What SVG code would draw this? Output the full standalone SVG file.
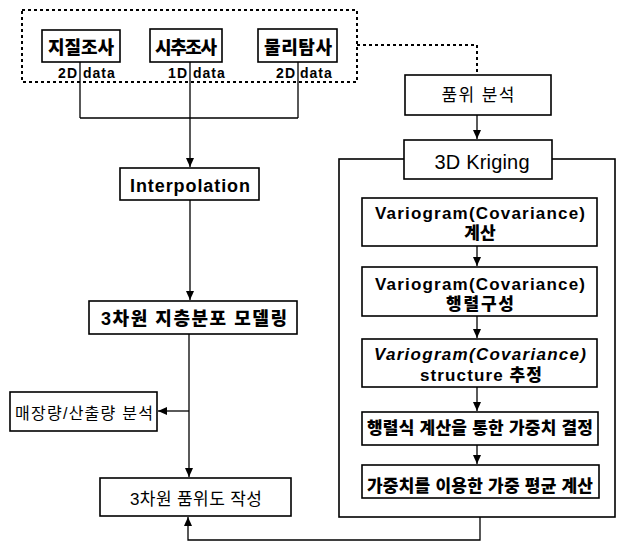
<svg xmlns="http://www.w3.org/2000/svg" width="621" height="542" viewBox="0 0 621 542">
<style>
.box{fill:#fff;stroke:#000;stroke-width:1.6}
.ln{fill:none;stroke:#000;stroke-width:1.3}
.dot{fill:none;stroke:#000;stroke-width:2;stroke-dasharray:3 3}
.b{font-family:"Liberation Sans","Noto Sans CJK KR",sans-serif;font-weight:900;fill:#000}
.r{font-family:"Liberation Sans","Noto Sans CJK KR",sans-serif;font-weight:normal;fill:#000}
.c{text-anchor:middle}
</style>
<defs>
<marker id="ah" markerWidth="10" markerHeight="10" refX="9" refY="5" orient="auto" markerUnits="userSpaceOnUse">
<path d="M0,1 L9,5 L0,9 Z" fill="#000"/>
</marker>
</defs>
<rect width="621" height="542" fill="#fff"/>

<g id="connectors">
<path class="dot" d="M22,10 H357 V82 H22 Z"/>
<path class="dot" d="M357,45 H477 V75"/>
<path class="ln" d="M80,62 V118 M190,62 V118 M298,62 V118 M80,118 H298"/>
<path class="ln" d="M190,118 V167" marker-end="url(#ah)"/>
<path class="ln" d="M190,200 V300" marker-end="url(#ah)"/>
<path class="ln" d="M189,334 V477" marker-end="url(#ah)"/>
<path class="ln" d="M189,411 H158" marker-end="url(#ah)"/>
<path class="ln" d="M477,115 V139" marker-end="url(#ah)"/>
<path class="ln" d="M480,517 V540 H188 V517" marker-end="url(#ah)"/>
<path class="ln" d="M477,246 V266" marker-end="url(#ah)"/>
<path class="ln" d="M477,316 V338" marker-end="url(#ah)"/>
<path class="ln" d="M477,387 V411" marker-end="url(#ah)"/>
<path class="ln" d="M477,445 V464" marker-end="url(#ah)"/>
</g>

<g id="kriging-group">
<rect x="339" y="159" width="276" height="358" fill="none" stroke="#000" stroke-width="1.6"/>
</g>

<g id="n-jijil">
<rect class="box" x="42" y="30" width="78" height="32"/>
<text class="b c" x="81" y="54" font-size="18" textLength="66">지질조사</text>
<text class="b" x="78" y="78" font-size="14" text-anchor="end" letter-spacing="1">2D</text>
<text class="b" x="83" y="78" font-size="14" letter-spacing="1">data</text>
</g>
<g id="n-sichu">
<rect class="box" x="150" y="29" width="72" height="33"/>
<text class="b c" x="186" y="54" font-size="18" textLength="62">시추조사</text>
<text class="b" x="188" y="78" font-size="14" text-anchor="end" letter-spacing="1">1D</text>
<text class="b" x="193" y="78" font-size="14" letter-spacing="1">data</text>
</g>
<g id="n-mulli">
<rect class="box" x="258" y="29" width="79" height="33"/>
<text class="b c" x="298" y="54" font-size="18" textLength="68">물리탐사</text>
<text class="b" x="296" y="78" font-size="14" text-anchor="end" letter-spacing="1">2D</text>
<text class="b" x="300" y="78" font-size="14" letter-spacing="1">data</text>
</g>
<g id="n-interp">
<rect class="box" x="120" y="168" width="139" height="32"/>
<text class="b c" x="190" y="192" font-size="18" textLength="120">Interpolation</text>
</g>
<g id="n-model">
<rect class="box" x="89" y="301" width="208" height="33"/>
<text class="b c" x="194" y="325" font-size="18" textLength="186">3차원 지층분포 모델링</text>
</g>
<g id="n-reserve">
<rect class="box" x="10" y="392" width="147" height="39"/>
<text class="r c" x="84" y="419" font-size="16" textLength="138">매장량/산출량 분석</text>
</g>
<g id="n-gradeMap">
<rect class="box" x="100" y="478" width="191" height="38"/>
<text class="r c" x="196" y="505" font-size="17" textLength="132">3차원 품위도 작성</text>
</g>
<g id="n-gradeAnal">
<rect class="box" x="405" y="75" width="146" height="40"/>
<text class="r c" x="478" y="101" font-size="17" textLength="73">품위 분석</text>
</g>
<g id="n-kriging">
<rect class="box" x="404" y="140" width="148" height="39"/>
<text class="r c" x="482" y="169" font-size="20" textLength="95">3D Kriging</text>
</g>
<g id="n-var1">
<rect class="box" x="362" y="198" width="235" height="48"/>
<text class="b c" x="480" y="219" font-size="17" textLength="210">Variogram(Covariance)</text>
<text class="b c" x="480" y="239" font-size="17">계산</text>
</g>
<g id="n-var2">
<rect class="box" x="362" y="267" width="235" height="49"/>
<text class="b c" x="480" y="290" font-size="17" textLength="210">Variogram(Covariance)</text>
<text class="b c" x="480" y="310" font-size="17" textLength="68">행렬구성</text>
</g>
<g id="n-var3">
<rect class="box" x="362" y="339" width="235" height="48"/>
<text class="b c" x="480" y="360" font-size="17" font-style="italic" textLength="212">Variogram(Covariance)</text>
<text class="b c" x="481" y="381" font-size="17" textLength="122">structure 추정</text>
</g>
<g id="n-weight">
<rect class="box" x="362" y="412" width="236" height="33"/>
<text class="b c" x="480" y="434" font-size="17" textLength="226">행렬식 계산을 통한 가중치 결정</text>
</g>
<g id="n-avg">
<rect class="box" x="362" y="465" width="237" height="33"/>
<text class="b c" x="480" y="492" font-size="17" textLength="226">가중치를 이용한 가중 평균 계산</text>
</g>
</svg>
